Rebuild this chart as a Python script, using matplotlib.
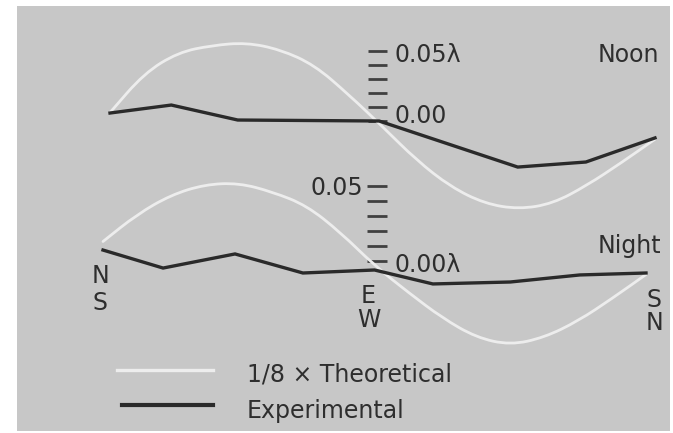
import matplotlib
matplotlib.use("Agg")
import matplotlib.pyplot as plt
from matplotlib.patches import Rectangle, PathPatch
from matplotlib.path import Path

# ---------------- data ----------------
positions = list(range(17))  # 16 azimuth steps from N/S to S/N

noon_theory = [0.006, 0.034, 0.049, 0.054, 0.056, 0.051, 0.040, 0.019, -0.004,
               -0.028, -0.047, -0.059, -0.063, -0.059, -0.046, -0.030, -0.013]
noon_exp_x = [0, 1.8, 3.75, 7.9, 11.97, 13.97, 16]
noon_exp = [0.0057, 0.0114, 0.0007, 0.0, -0.0329, -0.0293, -0.0121]

night_theory = [0.013, 0.031, 0.044, 0.051, 0.052, 0.046, 0.037, 0.019, -0.003,
                -0.021, -0.038, -0.051, -0.056, -0.051, -0.040, -0.025, -0.009]
night_exp_x = [0, 1.77, 3.89, 5.89, 8.0, 9.72, 12.0, 14.05, 16]
night_exp = [0.0073, -0.0047, 0.0047, -0.008, -0.006, -0.0153, -0.014, -0.0093, -0.008]

scale_ticks = [0.0, 0.01, 0.02, 0.03, 0.04, 0.05]
legend_labels = ["1/8 \u00d7 Theoretical", "Experimental"]

# ---------------- styling ----------------
W, H = 673, 433
BG = "#c7c7c7"
THEO = "#ededed"
EXP = "#2a2a2a"
TXT = "#2e2e2e"
FS = 17
plt.rcParams["font.family"] = ["DejaVu Sans"]

fig = plt.figure(figsize=(W / 100, H / 100), dpi=100)
fig.patch.set_facecolor("white")
fig.patches.append(Rectangle((17 / W, 1 - 431 / H), 653 / W, 425 / H,
                             transform=fig.transFigure, facecolor=BG,
                             edgecolor="none", zorder=-10))


def make_axes(px0, px16, py0, py05):
    ax = fig.add_axes([0, 0, 1, 1])
    ax.set_facecolor("none")
    ax.axis("off")
    b = (px16 - px0) / 16.0
    ax.set_xlim((0 - px0) / b, (W - px0) / b)
    d = (py0 - py05) / 0.05
    ax.set_ylim((py0 - H) / d, py0 / d)
    return ax, (lambda px: (px - px0) / b)


def smooth_curve(ax, xs, ys, **kw):
    """Draw a smooth quadratic-Bezier path guided by the read points."""
    pts = list(zip(xs, ys))
    verts = [pts[0]]
    codes = [Path.MOVETO]
    mid = lambda a, b: ((a[0] + b[0]) / 2, (a[1] + b[1]) / 2)
    verts.append(mid(pts[0], pts[1]))
    codes.append(Path.LINETO)
    for i in range(1, len(pts) - 1):
        verts += [pts[i], mid(pts[i], pts[i + 1])]
        codes += [Path.CURVE3, Path.CURVE3]
    verts.append(pts[-1])
    codes.append(Path.LINETO)
    ax.add_patch(PathPatch(Path(verts, codes), facecolor="none", **kw))


def fx(px):
    return px / W


def fy(py):
    return 1 - py / H


# Noon panel
ax_n, xconv_n = make_axes(110, 655, 121, 51)
ax_n.hlines(scale_ticks, xconv_n(368), xconv_n(387), color="#404040", lw=2.0, zorder=1)
smooth_curve(ax_n, positions, noon_theory, edgecolor=THEO, lw=2.0, zorder=2, capstyle="round")
ax_n.plot(noon_exp_x, noon_exp, color=EXP, lw=2.4, zorder=3, solid_joinstyle="miter")

# Night panel
ax_t, xconv_t = make_axes(103, 646, 261, 186)
ax_t.hlines(scale_ticks, xconv_t(367), xconv_t(387), color="#404040", lw=2.0, zorder=1)
smooth_curve(ax_t, positions, night_theory, edgecolor=THEO, lw=2.0, zorder=2, capstyle="round")
ax_t.plot(night_exp_x, night_exp, color=EXP, lw=2.4, zorder=3, solid_joinstyle="miter")

# ---------------- texts ----------------
def txt(s, px, py, ha="left"):
    fig.text(fx(px), fy(py), s, ha=ha, va="baseline", fontsize=FS, color=TXT)

txt("0.05\u03bb", 395, 62)
txt("0.00", 395, 123)
txt("Noon", 628, 62, ha="center")
txt("0.05", 363, 195, ha="right")
txt("0.00\u03bb", 395, 272)
txt("Night", 629, 253, ha="center")

txt("N", 100, 283, ha="center")
txt("S", 100, 310, ha="center")
txt("E", 368, 303, ha="center")
txt("W", 369, 327, ha="center")
txt("S", 654, 307, ha="center")
txt("N", 655, 330, ha="center")

# ---------------- legend ----------------
fig.lines.append(plt.Line2D([fx(117), fx(213)], [fy(370), fy(370)],
                            transform=fig.transFigure, color=THEO, lw=2.4))
fig.lines.append(plt.Line2D([fx(122), fx(213)], [fy(405), fy(405)],
                            transform=fig.transFigure, color=EXP, lw=3.0))
txt(legend_labels[0], 247, 382)
txt(legend_labels[1], 247, 418)

fig.savefig("out.png", dpi=100, facecolor=fig.get_facecolor())
